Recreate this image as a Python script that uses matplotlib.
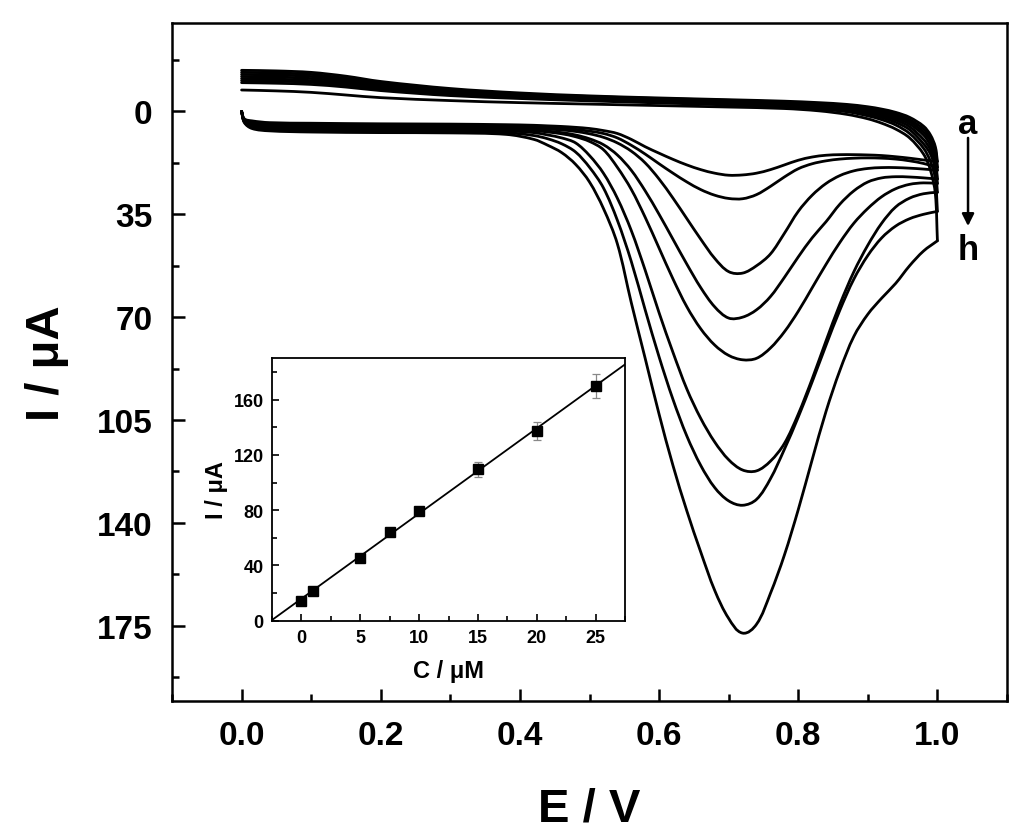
import matplotlib
matplotlib.use('Agg')
import matplotlib.pyplot as plt
import numpy as np
from matplotlib.ticker import MultipleLocator, FormatStrFormatter
from matplotlib.path import Path
from matplotlib.patches import PathPatch

plt.rcParams['font.family'] = ['Liberation Sans', 'DejaVu Sans']
plt.rcParams['font.weight'] = 'bold'

# ---------------- main CV data (E in V, I in uA; positive = downward) ----------------
E_fwd = [0.000, 0.004, 0.015, 0.04, 0.10, 0.20, 0.30, 0.38, 0.42, 0.44, 0.46, 0.48,
         0.50, 0.52, 0.54, 0.56, 0.58, 0.60, 0.62, 0.64, 0.66, 0.68, 0.70, 0.72,
         0.74, 0.76, 0.78, 0.80, 0.82, 0.84, 0.86, 0.88, 0.90, 0.92, 0.94, 0.96,
         0.98, 1.00]

I_fwd_a = [0, 2.5, 3.2, 3.8, 4.0, 4.2, 4.3, 4.5, 4.7, 4.9, 5.1, 5.4,
           5.8, 6.5, 7.5, 9.5, 12.0, 14.2, 16.3, 18.2, 19.8, 21.0, 21.7, 21.6,
           21.0, 19.8, 18.2, 16.6, 15.5, 14.9, 14.7, 14.7, 14.8, 15.0, 15.4, 15.9,
           16.5, 17.0]
I_fwd_b = [0, 2.8, 3.7, 4.3, 4.5, 4.7, 4.8, 5.0, 5.2, 5.4, 5.7, 6.1,
           6.7, 7.5, 9.0, 11.5, 14.5, 17.8, 21.0, 24.0, 26.6, 28.5, 29.6, 29.7,
           28.3, 25.5, 22.3, 19.5, 17.8, 16.8, 16.2, 15.9, 15.8, 15.9, 16.2, 16.8,
           17.7, 19.0]
I_fwd_c = [0, 3.0, 4.2, 4.8, 5.0, 5.2, 5.3, 5.5, 5.7, 6.0, 6.3, 6.8,
           7.6, 8.8, 10.7, 13.5, 17.5, 23.0, 29.5, 36.5, 43.5, 50.0, 54.5, 55.0,
           52.5, 48.5, 41.5, 34.0, 28.5, 24.5, 21.8, 20.2, 19.4, 19.1, 19.1, 19.3,
           19.6, 20.0]
I_fwd_d = [0, 3.2, 4.7, 5.3, 5.5, 5.7, 5.8, 6.0, 6.3, 6.7, 7.2, 8.0,
           9.3, 11.3, 14.8, 20.0, 27.0, 35.0, 43.5, 52.0, 60.0, 66.5, 70.3, 70.0,
           67.5, 63.0, 56.5, 49.5, 43.0, 37.5, 31.5, 27.0, 24.0, 22.6, 22.2, 22.3,
           22.6, 23.0]
I_fwd_e = [0, 3.2, 4.8, 5.4, 5.6, 5.8, 5.9, 6.1, 6.5, 7.0, 7.6, 8.6,
           10.2, 13.0, 19.0, 26.5, 36.0, 46.5, 57.0, 66.5, 74.0, 79.5, 83.0, 84.5,
           84.0, 80.5, 75.0, 68.0, 60.0, 52.0, 44.5, 38.0, 33.0, 29.0, 26.3, 24.8,
           24.3, 24.5]
I_fwd_f = [0, 3.4, 5.1, 5.8, 6.0, 6.2, 6.3, 6.6, 7.2, 8.0, 9.0, 10.7,
           15.0, 21.0, 29.5, 40.5, 54.0, 68.5, 82.0, 94.5, 104.5, 112.5, 118.5, 122.0,
           122.3, 119.0, 113.0, 103.0, 91.0, 78.0, 65.5, 54.5, 45.5, 38.0, 32.5, 29.5,
           28.0, 27.5]
I_fwd_g = [0, 3.6, 5.5, 6.2, 6.5, 6.7, 6.8, 7.2, 8.2, 9.3, 11.0, 13.8,
           19.0, 26.0, 37.0, 51.0, 67.5, 83.5, 98.0, 110.5, 120.5, 128.0, 132.5, 134.0,
           132.0, 125.0, 115.0, 104.0, 92.0, 79.5, 67.5, 57.0, 49.0, 43.0, 39.0, 36.5,
           35.0, 34.0]
I_fwd_h = [0, 3.8, 5.8, 6.6, 7.0, 7.2, 7.3, 7.8, 9.5, 11.5, 14.0, 18.0,
           24.0, 33.0, 45.0, 65.0, 84.0, 103.0, 120.5, 136.0, 150.0, 163.0, 172.5, 177.5,
           174.5, 164.0, 151.0, 135.5, 118.5, 102.0, 88.0, 76.5, 69.0, 63.5, 58.5, 52.5,
           47.5, 44.0]

E_rev = [1.00, 0.997, 0.99, 0.98, 0.96, 0.94, 0.92, 0.90, 0.87, 0.83, 0.78,
         0.70, 0.60, 0.50, 0.40, 0.30, 0.20, 0.15, 0.10, 0.05, 0.00]

I_rev_a = [17, 12, 8, 5, 2, 0.3, -0.8, -1.6, -2.4, -3.0, -3.5,
           -4.0, -4.6, -5.3, -6.3, -7.8, -10.2, -12.0, -13.3, -13.8, -14.0]
I_rev_b = [19, 13, 9, 6, 2.8, 1.0, -0.2, -1.1, -2.0, -2.7, -3.2,
           -3.8, -4.4, -5.1, -6.0, -7.4, -9.7, -11.3, -12.6, -13.1, -13.3]
I_rev_c = [20, 14, 10, 7, 3.5, 1.6, 0.3, -0.6, -1.6, -2.3, -2.9,
           -3.5, -4.1, -4.8, -5.7, -7.0, -9.1, -10.7, -11.9, -12.4, -12.6]
I_rev_d = [23, 16, 11.5, 8, 4.3, 2.2, 0.9, -0.1, -1.2, -2.0, -2.6,
           -3.2, -3.8, -4.5, -5.3, -6.6, -8.6, -10.1, -11.2, -11.7, -11.9]
I_rev_e = [24.5, 17.5, 13, 9.5, 5.2, 2.9, 1.5, 0.4, -0.8, -1.6, -2.3,
           -2.9, -3.5, -4.2, -5.0, -6.2, -8.1, -9.5, -10.5, -11.0, -11.2]
I_rev_f = [27.5, 19.5, 14.5, 11, 6.2, 3.7, 2.1, 0.9, -0.4, -1.2, -1.9,
           -2.6, -3.2, -3.9, -4.7, -5.8, -7.6, -8.9, -9.9, -10.3, -10.5]
I_rev_g = [34, 23, 17, 12.5, 7.5, 4.6, 2.8, 1.5, 0.1, -0.8, -1.5,
           -2.2, -2.9, -3.6, -4.4, -5.4, -7.1, -8.3, -9.2, -9.6, -9.8]
I_rev_h = [44, 28, 20, 14.5, 9, 6, 4, 2.5, 1.0, -0.2, -1.0,
           -1.5, -2.0, -2.5, -3.0, -3.7, -4.7, -5.6, -6.5, -7.0, -7.3]

fwd_curves = [I_fwd_a, I_fwd_b, I_fwd_c, I_fwd_d, I_fwd_e, I_fwd_f, I_fwd_g, I_fwd_h]
rev_curves = [I_rev_a, I_rev_b, I_rev_c, I_rev_d, I_rev_e, I_rev_f, I_rev_g, I_rev_h]

# ---------------- inset calibration data ----------------
conc = [0, 1, 5, 7.5, 10, 15, 20, 25]
peak_current = [14.5, 21.8, 45.7, 64.3, 79.3, 109.5, 137.5, 169.9]
peak_err = [1.5, 1.5, 1.5, 2.0, 3.0, 5.5, 6.6, 8.7]

x_ticks = [0.0, 0.2, 0.4, 0.6, 0.8, 1.0]
y_ticks = [0, 35, 70, 105, 140, 175]


def smooth_path(xs, ys, sx=697.0, sy=2.943):
    """Smooth Bezier path passing through the given data points."""
    P = np.column_stack([np.asarray(xs, float) * sx, np.asarray(ys, float) * sy])
    n = len(P)
    T = np.zeros_like(P)
    for i in range(n):
        if i == 0:
            d = P[1] - P[0]
        elif i == n - 1:
            d = P[-1] - P[-2]
        else:
            d = P[i + 1] - P[i - 1]
        T[i] = d / (np.linalg.norm(d) + 1e-12)
    verts = [P[0]]
    codes = [Path.MOVETO]
    for i in range(n - 1):
        L = np.linalg.norm(P[i + 1] - P[i])
        verts += [P[i] + T[i] * L / 3, P[i + 1] - T[i + 1] * L / 3, P[i + 1]]
        codes += [Path.CURVE4] * 3
    V = np.array(verts) / np.array([sx, sy])
    return Path(V, codes)


# ---------------- figure ----------------
fig = plt.figure(figsize=(10.24, 8.37), dpi=100)
ax = fig.add_axes([172 / 1024, 1 - 702 / 837, 835 / 1024, 678 / 837])

for fw, rv in zip(fwd_curves, rev_curves):
    for xs, ys in ((E_fwd, fw), (E_rev, rv)):
        ax.add_patch(PathPatch(smooth_path(xs, ys), fill=False, edgecolor='black',
                               lw=2.0, capstyle='round', joinstyle='round'))

ax.set_xlim(-0.1, 1.1)
ax.set_ylim(200.6, -30.1)
ax.set_xticks(x_ticks)
ax.set_yticks(y_ticks)
ax.xaxis.set_minor_locator(MultipleLocator(0.1))
ax.yaxis.set_minor_locator(MultipleLocator(17.5))
ax.xaxis.set_major_formatter(FormatStrFormatter('%.1f'))
ax.tick_params(which='major', direction='in', length=9, width=1.8,
               labelsize=24, top=False, right=False, pad=14)
ax.tick_params(which='minor', direction='in', length=5, width=1.8,
               top=False, right=False)
for s in ax.spines.values():
    s.set_linewidth(1.8)
ax.set_xlabel('E / V', fontsize=34, fontweight='bold', labelpad=25)
ax.set_ylabel('I / μA', fontsize=34, fontweight='bold', labelpad=20)

ax.text(1.044, 4, 'a', fontsize=25, fontweight='bold', ha='center', va='center')
ax.text(1.044, 47, 'h', fontsize=25, fontweight='bold', ha='center', va='center')
ax.annotate('', xy=(1.044, 39), xytext=(1.044, 9),
            arrowprops=dict(arrowstyle='-|>', color='black', lw=1.8,
                            mutation_scale=18, shrinkA=0, shrinkB=0))

# ---------------- inset ----------------
axin = fig.add_axes([272 / 1024, 1 - 621.7 / 837, 353 / 1024, 262.4 / 837])
slope, intercept = np.polyfit(conc, peak_current, 1)
xl = np.array([-2.5, 27.5])
axin.plot(xl, slope * xl + intercept, color='black', lw=1.3)
axin.errorbar(conc, peak_current, yerr=peak_err, fmt='s', color='black',
              ms=7, ecolor='#888888', elinewidth=0.9, capsize=3, capthick=0.9)
axin.set_xlim(-2.5, 27.5)
axin.set_ylim(0, 190)
axin.xaxis.set_major_locator(MultipleLocator(5))
axin.xaxis.set_minor_locator(MultipleLocator(2.5))
axin.yaxis.set_major_locator(MultipleLocator(40))
axin.yaxis.set_minor_locator(MultipleLocator(20))
axin.tick_params(which='major', direction='in', length=5, width=1.2,
                 labelsize=13, top=False, right=False, pad=6)
axin.tick_params(which='minor', direction='in', length=3.5, width=1.2,
                 top=False, right=False)
for s in axin.spines.values():
    s.set_linewidth(1.3)
axin.set_xlabel('C / μM', fontsize=17, fontweight='bold', labelpad=9)
axin.set_ylabel('I / μA', fontsize=17, fontweight='bold', labelpad=4)

fig.savefig('out.png', dpi=100)
